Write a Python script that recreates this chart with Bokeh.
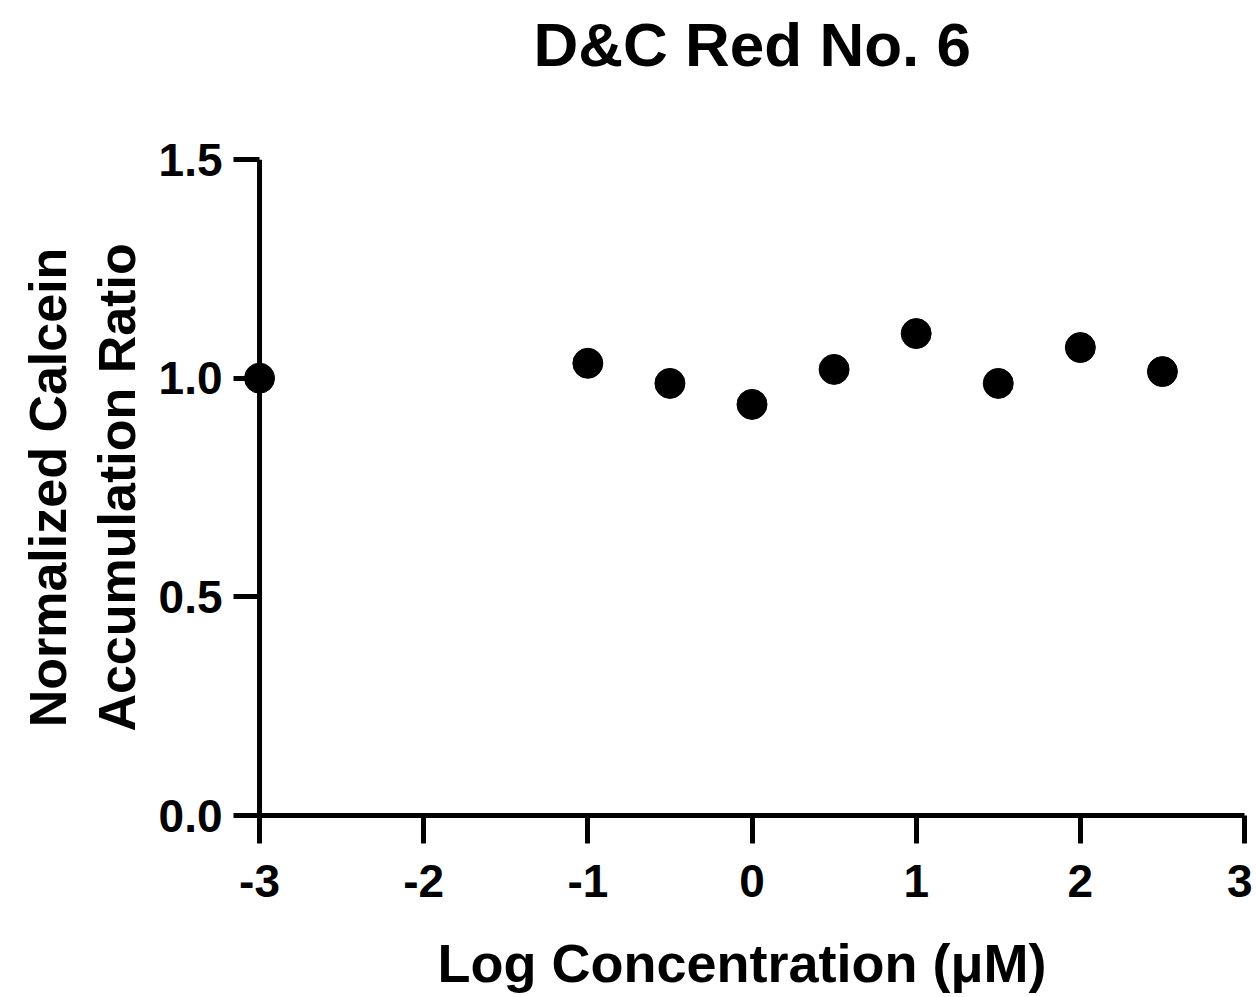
from bokeh.plotting import figure
from bokeh.models import Range1d, FixedTicker, Span, Title
from bokeh.embed import file_html
from bokeh.resources import INLINE

log_conc = [-3, -1, -0.5, 0, 0.5, 1, 1.5, 2, 2.5]
ratio = [1.0, 1.034, 0.988, 0.940, 1.020, 1.102, 0.988, 1.070, 1.015]
x_ticks = [-3, -2, -1, 0, 1, 2, 3]
x_tick_labels = ["-3", "-2", "-1", "0", "1", "2", "3"]
y_ticks = [0.0, 0.5, 1.0, 1.5]
y_tick_labels = ["0.0", "0.5", "1.0", "1.5"]

FONT = "Liberation Sans"
X_MIN, X_MAX = x_ticks[0], x_ticks[-1]
Y_MIN, Y_MAX = y_ticks[0], y_ticks[-1]

p = figure(width=1252, height=997, output_backend="svg", toolbar_location=None,
           x_range=Range1d(-3.122, X_MAX), y_range=Range1d(Y_MIN, Y_MAX),
           min_border_left=239, min_border_right=8, min_border_top=159, min_border_bottom=182,
           title="D&C Red No. 6")
p.outline_line_color = None
p.grid.visible = False
p.background_fill_color = "white"
p.border_fill_color = "white"

# blank spacer between the frame and the title, pushing the title up
p.add_layout(Title(text=" ", text_font_size="1px", standoff=78), "above")

p.title.text_font = FONT
p.title.text_font_style = "bold"
p.title.text_font_size = "62px"
p.title.align = "left"
p.title.offset = 294
p.title.text_color = "black"
p.title.standoff = 0

# y-axis line drawn at x = -3 (the frame reaches slightly further left so the
# marker at x = -3 is not clipped)
p.add_layout(Span(location=X_MIN, dimension="height", line_color="black", line_width=5))

p.scatter(log_conc, ratio, size=30, color="black")

xa = p.xaxis[0]
xa.bounds = (X_MIN, X_MAX)
xa.ticker = FixedTicker(ticks=x_ticks)
xa.major_label_overrides = dict(zip(x_ticks, x_tick_labels))
xa.axis_label = "Log Concentration (μM)"
ya = p.yaxis[0]
ya.ticker = FixedTicker(ticks=y_ticks)
ya.major_label_overrides = dict(zip(y_ticks, y_tick_labels))
ya.axis_label = "Normalized Calcein\nAccumulation Ratio"

for ax in (xa, ya):
    ax.axis_line_width = 5
    ax.axis_line_color = "black"
    ax.major_tick_line_width = 5
    ax.major_tick_line_color = "black"
    ax.minor_tick_line_color = None
    ax.major_label_text_font = FONT
    ax.major_label_text_font_style = "bold"
    ax.major_label_text_font_size = "46px"
    ax.major_label_text_color = "black"
    ax.major_label_text_line_height = 1.0
    ax.axis_label_text_font = FONT
    ax.axis_label_text_font_style = "bold"
    ax.axis_label_text_color = "black"

xa.major_tick_in = 0
xa.major_tick_out = 28
xa.major_label_standoff = 21
xa.axis_label_standoff = 33
xa.axis_label_text_font_size = "54px"
xa.axis_label_text_line_height = 1.0

ya.axis_line_color = None
ya.major_tick_in = 20
ya.major_tick_out = 6
ya.major_label_standoff = 11
ya.axis_label_standoff = 10
ya.axis_label_text_font_size = "52px"
ya.axis_label_text_line_height = 1.18

open("out.html", "w").write(file_html(p, INLINE))
